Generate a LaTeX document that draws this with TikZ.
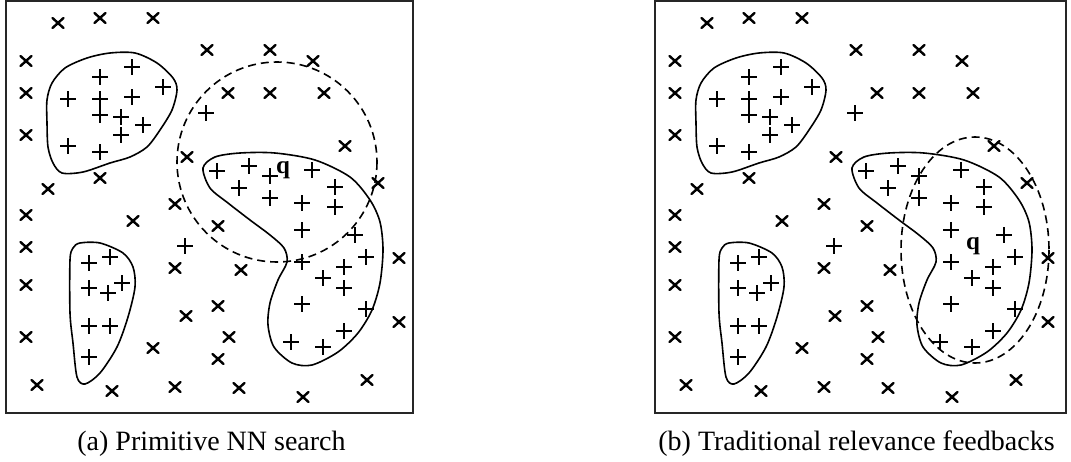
\documentclass[tikz,border=0pt]{standalone}
\usepackage{fontspec}
\setmainfont{Liberation Serif}
\tikzset{
  xstroke/.style={line width=2.4pt, line cap=round},
  pstroke/.style={line width=1.4pt},
  xmark/.pic={\draw[xstroke] (-5.5,-5)--(5.5,5) (-5.5,5)--(5.5,-5);},
  pmark/.pic={\draw[pstroke] (-8,0)--(8,0) (0,-8)--(0,8);},
  blob/.style={line width=1.6pt},
  dashline/.style={line width=1.6pt, dash pattern=on 8pt off 5pt},
  frame/.style={line width=1.6pt, draw=black!85},
  captext/.style={anchor=base, inner sep=0pt, font=\fontsize{28}{32}\selectfont},
  qtext/.style={inner sep=0pt, font=\fontsize{25}{27}\selectfont\bfseries},
}
\newcommand\panelmarks{%
  \foreach \a/\b in {58/23,100/18,153/18,26/61,26/93,26/135,48/189,100/178,187/157,
     207/50,175/204,270/50,313/61,228/93,270/93,324/93,345/146,378/183,218/226,
     241/270,399/258,218/306,229/337,218/359,239/388,303/397,367/380,399/322,
     26/215,133/221,26/247,26/285,175/268,186/316,26/337,153/348,37/385,112/391,175/387}
     \pic at (\a,\b) {xmark};
  \foreach \a/\b in {132/67,100/77,163/87,68/99,100/99,132/97,100/115,121/117,143/125,
     121/135,68/146,100/152,206/113,185/246,
     217/171,249/166,270/176,312/170,335/187,239/188,270/198,302/203,335/207,302/230,
     355/235,302/262,366/257,344/267,323/278,344/288,302/304,366/309,344/331,291/342,323/347,
     89/263,110/257,89/288,108/293,122/283,89/326,110/326,89/357}
     \pic at (\a,\b) {pmark};
  \draw[blob] plot[smooth cycle] coordinates {(110,53) (135,53) (157,63) (173,78) (177,90)
     (172,110) (160,130) (147,147) (130,157) (110,163) (83,172) (62,173) (53,163) (48,147)
     (47,123) (47,100) (52,83) (65,68) (87,58)};
  \draw[blob] plot[smooth cycle] coordinates {(80,243) (100,243) (123,253) (133,267) (135,287)
     (128,317) (117,347) (100,373) (85,384) (77,377) (73,343) (70,313) (70,260) (73,248)};
  \draw[blob] plot[smooth cycle] coordinates {(203,168) (215,157) (240,153) (275,153) (315,160)
     (350,177) (370,200) (380,222) (383,250) (380,283) (372,310) (358,333) (338,352) (312,365)
     (292,363) (274,347) (268,325) (270,303) (278,280) (287,262) (284,248) (270,235) (250,220)
     (228,203) (210,188)};
}
\begin{document}
\begin{tikzpicture}[x=1pt, y=-1pt]
  \useasboundingbox (0,0) rectangle (1071,461);
  % panel (a)
  \draw[frame] (6,1) rectangle (413,413);
  \panelmarks
  \draw[dashline] (277,162) circle[radius=100];
  \node[qtext] (qa) at (283,170) {q};
  \node[captext] (capa) at (211.5,450) {(a) Primitive NN search};
  % panel (b)
  \draw[frame] (655,1) rectangle (1066,413);
  \begin{scope}[xshift=649pt]
    \panelmarks
  \end{scope}
  \draw[dashline] (975,250) ellipse[x radius=74, y radius=113];
  \node[qtext] (qb) at (973,246) {q};
  \node[captext] (capb) at (856.5,450) {(b) Traditional relevance feedbacks};
\end{tikzpicture}
\end{document}
